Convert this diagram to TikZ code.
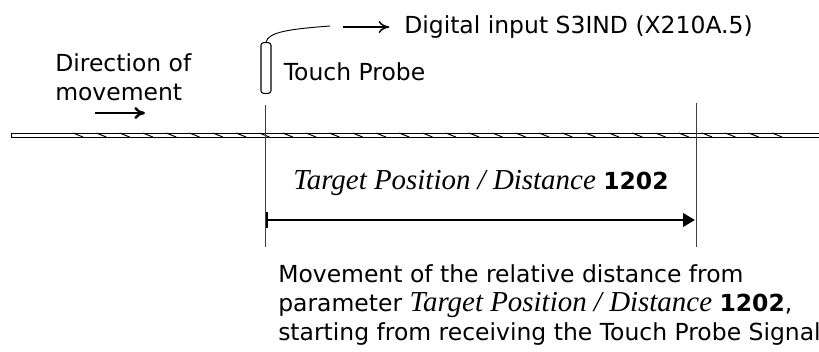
\documentclass[tikz,border=0pt]{standalone}
\usepackage{fontspec}
\setmainfont{DejaVu Sans}
\newfontfamily\paramfont{Liberation Serif}
\usetikzlibrary{arrows.meta,positioning}

\newcommand{\param}[1]{{\paramfont\itshape\fontsize{21.7}{22}\selectfont #1}}

\begin{document}
\begin{tikzpicture}[x=0.75pt,y=-0.75pt,
    lbl/.style={inner sep=0pt, font=\fontsize{17.6}{22}\selectfont},
    guide/.style={draw=black!75, line width=0.7pt},
    rail/.style={line width=0.75pt}]
    \useasboundingbox (0,0) rectangle (819,351);

    % rail with hatching
    \draw [rail] (819,133) -- (11,133) -- (11,137) -- (819,137);
    \foreach \i in {0,...,30}
        \draw [rail] (73+23.3*\i,133) -- ++(10,4);

    % touch probe and its cable
    \node (probe) at (266,68) [draw, rounded corners=2pt, minimum width=7.5pt,
        minimum height=38pt, inner sep=0pt, line width=0.8pt] {};
    \node (tplabel) [lbl, anchor=west, right=9pt of probe, yshift=-3pt] {Touch Probe};
    \coordinate (cable) at (330,26);
    \draw [line width=0.7pt] (probe.north) .. controls (268,32) and (290,29) .. (cable);

    \coordinate (sig) at (343,27);
    \node (digin) at (404,27) [lbl, anchor=west] {Digital input S3IND (X210A.5)};
    \draw [-{To[length=8pt,width=9pt]}, line width=1.1pt, shorten >=11pt] (sig) -- (digin);

    % direction of movement
    \node (dir) at (55,77) [lbl, anchor=west, align=left] {Direction of\\movement};
    \coordinate (mvA) at (95,113);
    \coordinate (mvB) at (145,113);
    \draw [-{To[length=8pt,width=9pt]}, line width=1.8pt] (mvA) -- (mvB);

    % start and end marks
    \coordinate (startT) at (265.5,105);
    \coordinate (startB) at (265.5,247);
    \coordinate (endT) at (696,103);
    \coordinate (endB) at (696,247);
    \draw [guide] (startT) -- (startB);
    \draw [guide] (endT) -- (endB);

    \coordinate (distA) at (265.5,220);
    \coordinate (distB) at (695,220);
    \draw [{Bar[width=12pt,line width=1.5pt]}-{Triangle[length=9pt,width=10pt]}, line width=2pt] (distA) -- (distB);
    \node (target) at (481,183) [lbl] {\param{Target Position / Distance} \textbf{1202}};

    % explanation
    \node (note) at (278,264) [lbl, anchor=north west, align=left]
        {Movement of the relative distance from\\
         parameter \param{Target Position / Distance} \textbf{1202},\\
         starting from receiving the Touch Probe Signal};
\end{tikzpicture}
\end{document}
